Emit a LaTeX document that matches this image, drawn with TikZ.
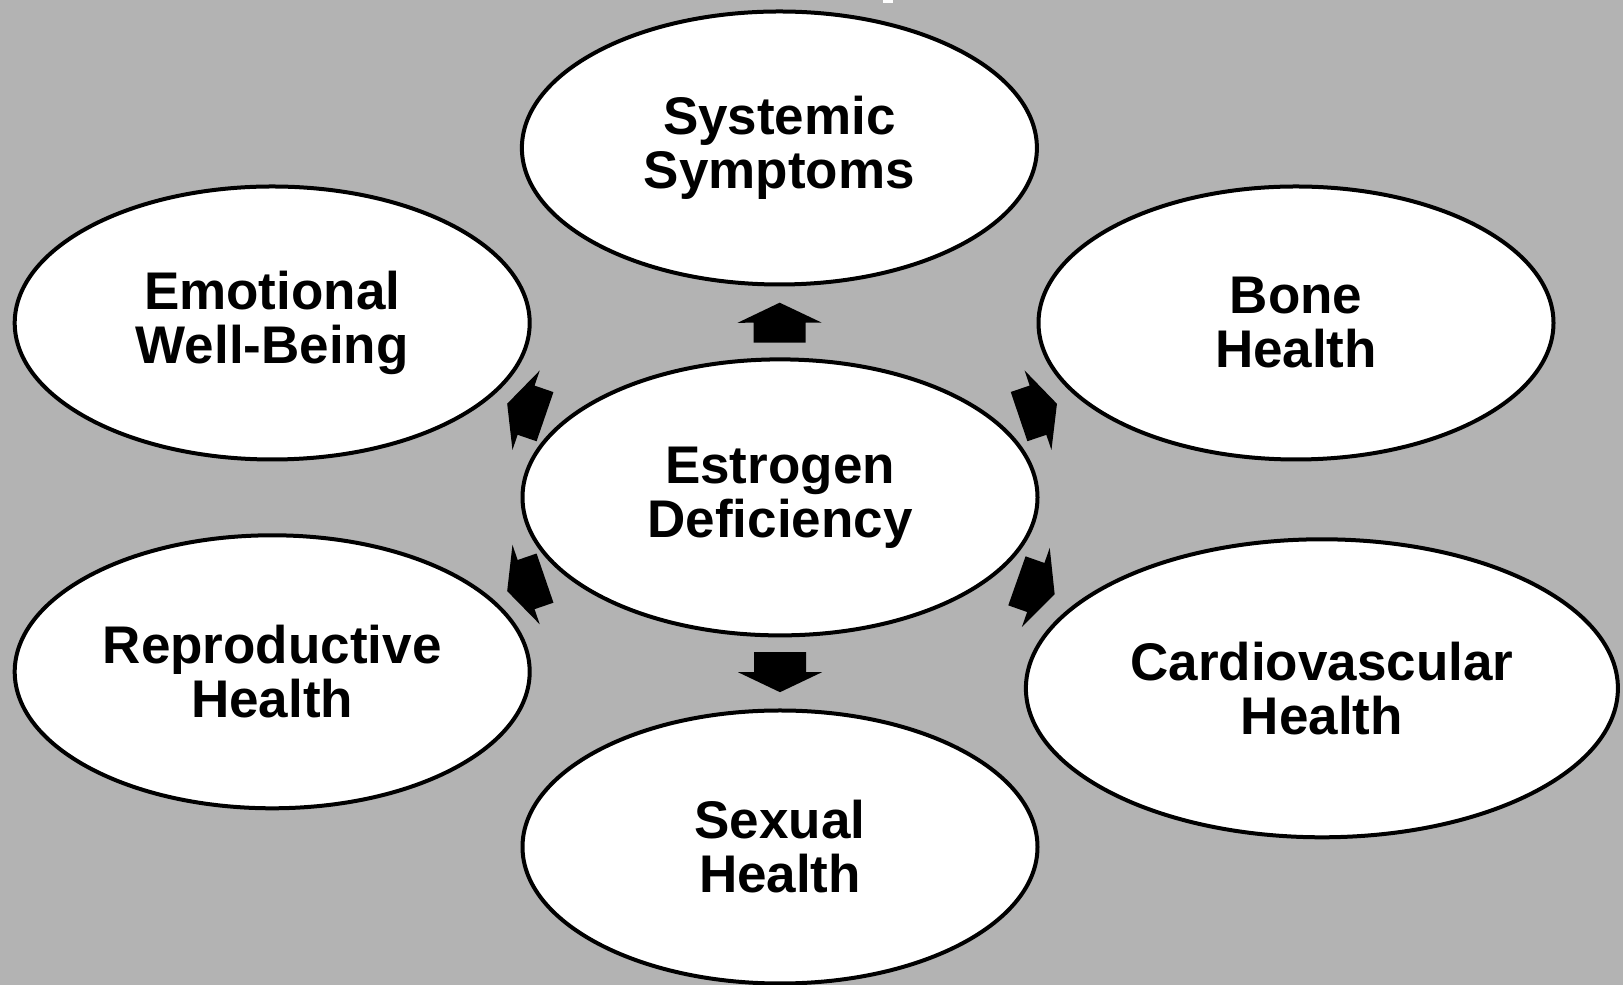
\documentclass[tikz,border=0pt]{standalone}
\usepackage{fontspec}
\setmainfont{Liberation Sans}
\usetikzlibrary{shapes.geometric,calc}
\definecolor{bggray}{RGB}{179,179,179}
\tikzset{
  bubble/.style={ellipse, draw=black, line width=4pt, fill=white, inner sep=0pt,
    minimum width=515pt, minimum height=273pt, align=center,
    font=\fontsize{53}{54}\selectfont\bfseries},
  fatarrow/.pic={\fill[black] (-20,-26) -- (0,-26) -- (0,-42) -- (20,0) -- (0,42) -- (0,26) -- (-20,26) -- cycle;}
}
\begin{document}
\begin{tikzpicture}[x=1pt,y=1pt]
\useasboundingbox (0,0) rectangle (1623,985);
\fill[bggray] (0,0) rectangle (1623,985);
\node[bubble] (sys) at (779.4,837) {Systemic\\Symptoms};
\node[bubble] (emo) at (272.2,662) {Emotional\\Well-Being};
\node[bubble] (bone) at (1296,662) {Bone\\Health};
\node[bubble, minimum height=276pt] (est) at (780,487.6) {Estrogen\\Deficiency};
\node[bubble] (rep) at (272.2,313.2) {Reproductive\\Health};
\node[bubble, minimum width=592pt, minimum height=298pt] (car) at (1321.9,296.7) {Cardiovascular\\Health};
\node[bubble] (sex) at (780,138) {Sexual\\Health};
\foreach \t/\p in {sys/0.5,emo/0.5,bone/0.5,rep/0.5,car/0.472,sex/0.5}
  \path (est.center) -- pic[pos=\p, sloped, allow upside down]{fatarrow} (\t.center);
\fill[white] (883,982) rectangle (893,985);
\end{tikzpicture}
\end{document}
